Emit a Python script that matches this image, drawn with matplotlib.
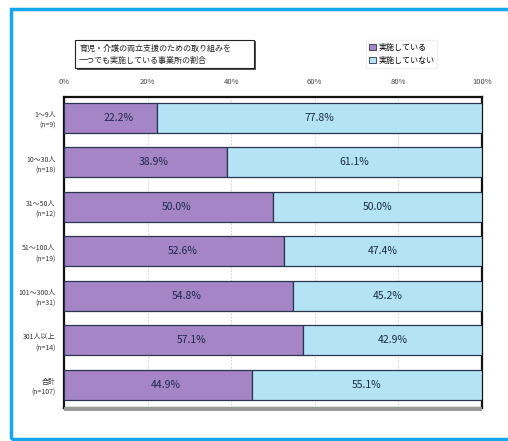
import matplotlib
matplotlib.use("Agg")
import matplotlib.pyplot as plt
from matplotlib.patches import Rectangle

plt.rcParams['font.family'] = ['Noto Sans CJK JP', 'DejaVu Sans']

categories = ["1～9人\n(n=9)", "10～30人\n(n=18)", "31～50人\n(n=12)", "51～100人\n(n=19)",
              "101～300人\n(n=31)", "301人以上\n(n=14)", "合計\n(n=107)"]
implemented = [22.2, 38.9, 50.0, 52.6, 54.8, 57.1, 44.9]
not_implemented = [77.8, 61.1, 50.0, 47.4, 45.2, 42.9, 55.1]
series_names = ["実施している", "実施していない"]
xticks = [0, 20, 40, 60, 80, 100]
xtick_labels = ["0%", "20%", "40%", "60%", "80%", "100%"]
title_text = "育児・介護の両立支援のための取り組みを\n一つでも実施している事業所の割合"

purple = "#a585c6"
blue = "#b3e3f4"
edge = "#2a3550"

fig = plt.figure(figsize=(5.08, 4.41), dpi=100)
W, H = 508, 441

# cyan frame
fig.patches.append(Rectangle((11 / W, 2 / H), 1.2, 1 - 11 / H, transform=fig.transFigure,
                             fill=False, edgecolor="#13a8ee", linewidth=2.5))

# shadow below the plot area
fig.patches.append(Rectangle((64 / W, 1 - 411 / H), (482 - 64) / W, 4 / H,
                             transform=fig.transFigure, facecolor="#9a9a9a",
                             edgecolor="none"))

ax = fig.add_axes([64 / W, 1 - 408 / H, (482 - 64) / W, (408 - 97) / H])
y = list(range(len(categories)))
ax.barh(y, implemented, height=0.67, color=purple, edgecolor=edge, linewidth=0.9, zorder=3)
ax.barh(y, not_implemented, left=implemented, height=0.67, color=blue, edgecolor=edge,
        linewidth=0.9, zorder=3)
for i in y:
    ax.text(implemented[i] / 2 + 2, i, f"{implemented[i]:.1f}%", ha="center", va="center",
            fontsize=7.5, color="#1c2a4a", zorder=4)
    ax.text(implemented[i] + not_implemented[i] / 2, i, f"{not_implemented[i]:.1f}%",
            ha="center", va="center", fontsize=7.5, color="#1c2a4a", zorder=4)

ax.set_xlim(0, 100)
ax.set_ylim(6.52, -0.47)
ax.set_xticks(xticks)
ax.set_xticklabels(xtick_labels, fontsize=5.5)
ax.xaxis.tick_top()
ax.tick_params(axis="x", length=0, pad=8, colors="#444444")
ax.set_yticks(y)
ax.set_yticklabels(categories, fontsize=5, linespacing=1.5)
ax.tick_params(axis="y", length=0, pad=6, colors="#333333")
ax.grid(axis="x", color="#cccccc", linestyle=(0, (2, 2)), linewidth=0.6, zorder=0)
for s in ax.spines.values():
    s.set_linewidth(1.6)
    s.set_color("#111111")

# title box shadow + box
fig.patches.append(Rectangle((77 / W, 1 - 70 / H), (256 - 77) / W, (70 - 41) / H,
                             transform=fig.transFigure, facecolor="#555555",
                             edgecolor="none"))
fig.patches.append(Rectangle((75 / W, 1 - 68 / H), (254 - 75) / W, (68 - 40) / H,
                             transform=fig.transFigure, facecolor="white",
                             edgecolor="#222222", linewidth=0.8))
fig.text(79 / W, 1 - 54 / H, title_text, fontsize=5.8, ha="left", va="center",
         linespacing=1.45, color="#222222")

# legend
handles = [Rectangle((0, 0), 1, 1, facecolor=purple, edgecolor=edge, linewidth=0.6),
           Rectangle((0, 0), 1, 1, facecolor=blue, edgecolor=edge, linewidth=0.6)]
fig.legend(handles, series_names, loc="center left", bbox_to_anchor=(362 / W, 1 - 54 / H),
           fontsize=5.8, frameon=True, fancybox=False, edgecolor="#eeeeee",
           handlelength=0.8, handleheight=0.8, handletextpad=0.3, labelspacing=0.5,
           borderpad=0.4)

fig.savefig("out.png", dpi=100)
